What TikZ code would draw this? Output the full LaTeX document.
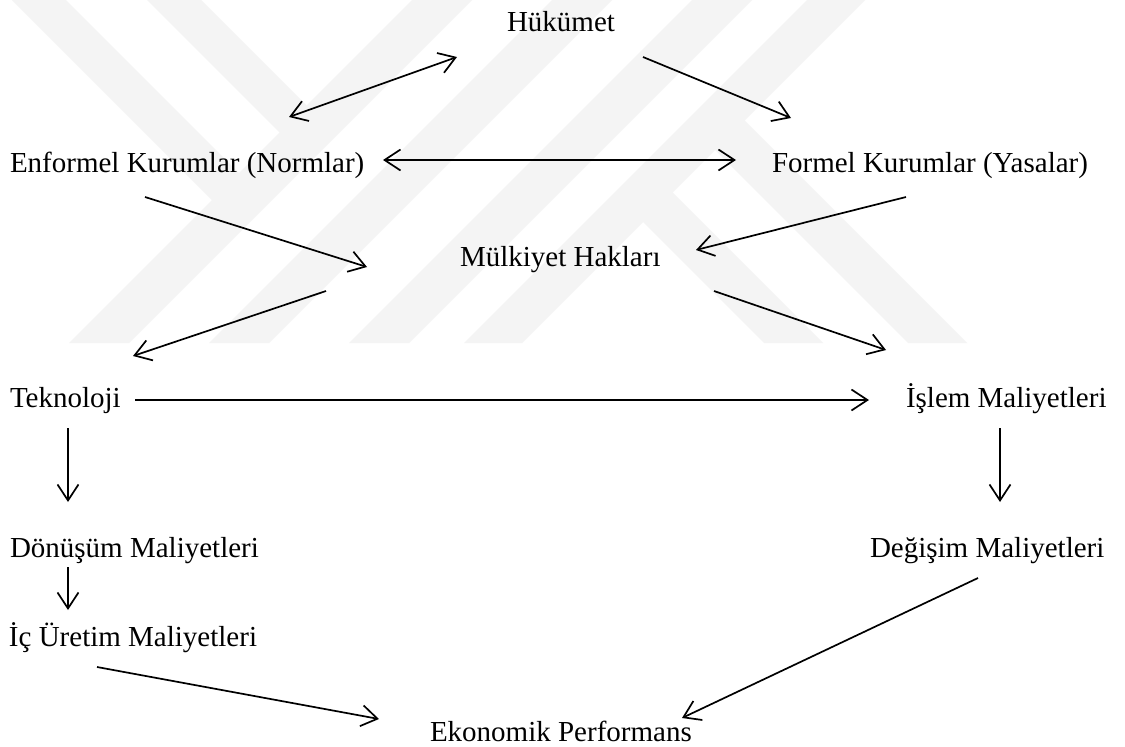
\documentclass[tikz,border=0pt]{standalone}
\usepackage{fontspec}
\setmainfont{Liberation Serif}
\usetikzlibrary{arrows.meta,calc}
\definecolor{wmark}{gray}{0.955}
\begin{document}
\begin{tikzpicture}[x=1pt,y=-1pt,
  lbl/.style={inner sep=0pt, outer sep=0pt, font=\fontsize{29}{34}\selectfont, anchor=base west},
  tipb/.tip={Straight Barb[length=16pt,width=21pt,line width=1.7pt]},
  arr/.style={line width=1.7pt, -tipb},
  darr/.style={line width=1.7pt, tipb-tipb},
  band/.style={fill=wmark, draw=none}]
\useasboundingbox[fill=white] (0,0) rectangle (1125,747);
% faint background watermark
\fill[band] (412,0) -- (472,0) -- (129,343) -- (69,343) -- cycle;
\fill[band] (552,0) -- (612,0) -- (269,343) -- (209,343) -- cycle;
\fill[band] (692,0) -- (752,0) -- (409,343) -- (349,343) -- cycle;
\fill[band] (807,0) -- (865,0) -- (522,343) -- (464,343) -- cycle;
\fill[band] (12,0) -- (66,0) -- (243,177) -- (216,204) -- cycle;
\fill[band] (147,0) -- (201,0) -- (310.5,109.5) -- (283.5,136.5) -- cycle;
\fill[band] (640.5,219.5) -- (670,190) -- (823,343) -- (764,343) -- cycle;
\fill[band] (712.5,147.5) -- (742,118) -- (967,343) -- (908,343) -- cycle;
% nodes
\node[lbl] (hk)  at (507,31)  {Hükümet};
\node[lbl] (enf) at (10,172)  {Enformel Kurumlar (Normlar)};
\node[lbl] (frm) at (772,172) {Formel Kurumlar (Yasalar)};
\node[lbl] (mlk) at (460,266) {Mülkiyet Hakları};
\node[lbl] (tek) at (10,407)  {Teknoloji};
\node[lbl] (isl) at (906,407) {İşlem Maliyetleri};
\node[lbl] (don) at (10,557)  {Dönüşüm Maliyetleri};
\node[lbl] (deg) at (870,557) {Değişim Maliyetleri};
\node[lbl] (ic)  at (9,646)   {İç Üretim Maliyetleri};
\node[lbl] (eko) at (430,741) {Ekonomik Performans};
% connectors
\draw[darr] ($(enf.base west)+(279,-55)$) -- ($(hk.base west)+(-50,26)$);
\draw[arr]  ($(hk.base west)+(136,26)$) -- ($(frm.base west)+(19,-54)$);
\draw[darr] ($(enf.base west)+(373,-12)$) -- ($(frm.base west)+(-36,-12)$);
\draw[arr]  ($(enf.base west)+(135,25)$) -- ($(mlk.base west)+(-93,1)$);
\draw[arr]  ($(frm.base west)+(134,25)$) -- ($(mlk.base west)+(236,-16)$);
\draw[arr]  ($(mlk.base west)+(-134,25)$) -- ($(tek.base west)+(123,-51)$);
\draw[arr]  ($(mlk.base west)+(254,25)$) -- ($(isl.base west)+(-20,-57)$);
\draw[arr]  ($(tek.base west)+(125,-7)$) -- ($(isl.base west)+(-37,-7)$);
\draw[arr]  ($(tek.base west)+(58,21)$) -- ($(don.base west)+(58,-55)$);
\draw[arr]  ($(isl.base west)+(94,21)$) -- ($(deg.base west)+(130,-55)$);
\draw[arr]  ($(don.base west)+(58,10)$) -- ($(ic.base west)+(59,-36)$);
\draw[arr]  ($(ic.base west)+(88,21)$) -- ($(eko.base west)+(-51,-22)$);
\draw[arr]  ($(deg.base west)+(108,21)$) -- ($(eko.base west)+(252,-23)$);
\end{tikzpicture}
\end{document}
